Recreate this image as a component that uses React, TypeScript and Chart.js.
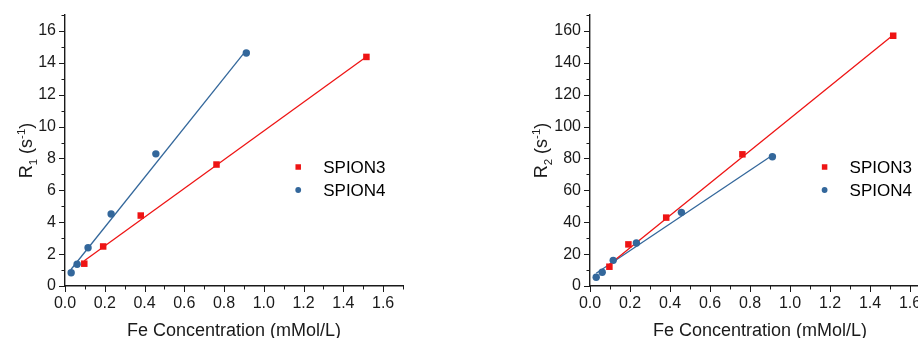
import React, { useEffect, useRef } from 'react';
import { Chart, registerables } from 'chart.js';

Chart.register(...registerables);

// ---------------- data ----------------
const SERIES = ['SPION3', 'SPION4'];
const FE_SPION3 = [0.097, 0.192, 0.381, 0.762, 1.516];
const FE_SPION4 = [0.031, 0.061, 0.116, 0.232, 0.457, 0.912];
const R1_SPION3 = [1.4, 2.48, 4.42, 7.62, 14.37];
const R1_SPION4 = [0.83, 1.36, 2.4, 4.52, 8.29, 14.62];
const R2_SPION3 = [12.1, 26.1, 42.9, 82.6, 157.0];
const R2_SPION4 = [5.5, 8.6, 16.1, 27.0, 46.2, 81.1];
// linear-fit lines: end points
const FIT_FE_SPION3 = [0.097, 1.516];
const FIT_FE_SPION4 = [0.031, 0.912];
const R1_FIT_SPION3 = [1.58, 14.38];
const R1_FIT_SPION4 = [1.05, 14.8];
const R2_FIT_SPION3 = [13.5, 157.5];
const R2_FIT_SPION4 = [8.0, 82.0];

const X_TICKS = [0, 0.2, 0.4, 0.6, 0.8, 1.0, 1.2, 1.4, 1.6];
const R1_TICKS = [0, 2, 4, 6, 8, 10, 12, 14, 16];
const R2_TICKS = [0, 20, 40, 60, 80, 100, 120, 140, 160];
const X_TITLE = 'Fe Concentration (mMol/L)';

// ---------------- style ----------------
const FONT = '"Liberation Sans", Arial, sans-serif';
const RED = '#ee1414';
const BLUE = '#33679b';
const INK = '#1a1a1a';

interface Panel {
  r3: number[];
  r4: number[];
  fit3: number[];
  fit4: number[];
  yTicks: number[];
  yMax: number;
  yMinor: number;
  sub: string;
  axisWidth: number;
  padRight: number;
  titleX: number;
}

const isMajor = (list: number[], v: number) => list.some((m) => Math.abs(m - v) < 1e-6);

function makeConfig(p: Panel): any {
  const decor = {
    id: 'decor',
    afterDraw(chart: any) {
      const ctx = chart.ctx;
      const area = chart.chartArea;
      const xs = chart.scales.x;
      const ys = chart.scales.y;
      ctx.save();
      // tick marks (major + minor, outward)
      ctx.strokeStyle = INK;
      ctx.lineWidth = 1;
      ctx.beginPath();
      xs.ticks.forEach((t: any) => {
        const x = Math.round(xs.getPixelForValue(t.value)) + 0.5;
        const len = isMajor(X_TICKS, t.value) ? 6 : 3.5;
        ctx.moveTo(x, area.bottom);
        ctx.lineTo(x, area.bottom + len);
      });
      ys.ticks.forEach((t: any) => {
        const y = Math.round(ys.getPixelForValue(t.value)) + 0.5;
        const len = isMajor(p.yTicks, t.value) ? 6 : 3.5;
        ctx.moveTo(area.left, y);
        ctx.lineTo(area.left - len, y);
      });
      ctx.stroke();

      // x title
      ctx.fillStyle = INK;
      ctx.font = `18px ${FONT}`;
      ctx.textAlign = 'center';
      ctx.textBaseline = 'alphabetic';
      ctx.fillText(X_TITLE, (area.left + area.right) / 2, 336);

      // y title with subscript / superscript
      const big = `18px ${FONT}`;
      const small = `11.5px ${FONT}`;
      const parts: [string, string, number][] = [
        ['R', big, 0],
        [p.sub, small, 4.5],
        [' (s', big, 0],
        ['-1', small, -7.5],
        [')', big, 0],
      ];
      let total = 0;
      const widths = parts.map(([txt, f]) => {
        ctx.font = f;
        const w = ctx.measureText(txt).width;
        total += w;
        return w;
      });
      ctx.translate(p.titleX, (area.top + area.bottom) / 2);
      ctx.rotate(-Math.PI / 2);
      ctx.textAlign = 'left';
      let cx = -total / 2;
      parts.forEach(([txt, f, dy], i) => {
        ctx.font = f;
        ctx.fillText(txt, cx, 6.4 + dy);
        cx += widths[i];
      });
      ctx.setTransform(1, 0, 0, 1, 0, 0);

      // legend inside plot
      const lx = area.left + 0.69 * (area.right - area.left);
      const rows = [area.top + 152, area.top + 175];
      ctx.font = `17px ${FONT}`;
      ctx.textBaseline = 'middle';
      ctx.textAlign = 'left';
      SERIES.forEach((name, i) => {
        ctx.fillStyle = i === 0 ? RED : BLUE;
        if (i === 0) {
          ctx.fillRect(lx - 2.75, rows[i] - 2.75, 5.5, 5.5);
        } else {
          ctx.beginPath();
          ctx.arc(lx, rows[i], 2.9, 0, Math.PI * 2);
          ctx.fill();
        }
        ctx.fillStyle = '#000';
        ctx.fillText(name, lx + 25, rows[i] + 1);
      });
      ctx.restore();
    },
  };

  const pts = (xs: number[], ys: number[]) => xs.map((x, i) => ({ x, y: ys[i] }));
  const tickFont = { family: FONT, size: 16 };

  return {
    type: 'scatter',
    data: {
      datasets: [
        {
          label: SERIES[0],
          data: pts(FE_SPION3, p.r3),
          pointStyle: 'rect',
          pointRadius: 4.6,
          pointBackgroundColor: RED,
          pointBorderColor: RED,
          pointBorderWidth: 0,
          showLine: false,
        },
        {
          label: SERIES[1],
          data: pts(FE_SPION4, p.r4),
          pointStyle: 'circle',
          pointRadius: 3.7,
          pointBackgroundColor: BLUE,
          pointBorderColor: BLUE,
          pointBorderWidth: 0,
          showLine: false,
        },
        {
          label: 'fit3',
          data: pts(FIT_FE_SPION3, p.fit3),
          showLine: true,
          borderColor: RED,
          borderWidth: 1.3,
          pointRadius: 0,
          fill: false,
        },
        {
          label: 'fit4',
          data: pts(FIT_FE_SPION4, p.fit4),
          showLine: true,
          borderColor: BLUE,
          borderWidth: 1.3,
          pointRadius: 0,
          fill: false,
        },
      ],
    },
    options: {
      responsive: false,
      maintainAspectRatio: false,
      animation: false,
      events: [],
      layout: { padding: { top: 15, right: p.padRight, left: 0, bottom: 0 } },
      plugins: { legend: { display: false }, tooltip: { enabled: false } },
      scales: {
        x: {
          type: 'linear',
          position: 'bottom',
          min: 0,
          max: 1.7,
          bounds: 'data',
          ticks: {
            stepSize: 0.1,
            autoSkip: false,
            maxRotation: 0,
            minRotation: 0,
            padding: 2,
            color: INK,
            font: tickFont,
            callback: (v: number) => (isMajor(X_TICKS, v) ? Number(v).toFixed(1) : ''),
          },
          grid: { display: true, drawOnChartArea: false, drawTicks: true, tickLength: 6, tickColor: 'rgba(0,0,0,0)' },
          border: { display: true, color: INK, width: 1.4 },
          afterFit: (s: any) => {
            s.height = 52;
            s.paddingLeft = 0;
            s.paddingRight = 0;
          },
        },
        y: {
          type: 'linear',
          position: 'left',
          min: 0,
          max: p.yMax,
          bounds: 'data',
          ticks: {
            stepSize: p.yMinor,
            autoSkip: false,
            padding: 3,
            color: INK,
            font: tickFont,
            callback: (v: number) => (isMajor(p.yTicks, v) ? String(Math.round(v)) : ''),
          },
          grid: { display: true, drawOnChartArea: false, drawTicks: true, tickLength: 6, tickColor: 'rgba(0,0,0,0)' },
          border: { display: true, color: INK, width: 1.4 },
          afterFit: (s: any) => {
            s.width = p.axisWidth;
            s.paddingTop = 0;
            s.paddingBottom = 0;
          },
        },
      },
    },
    plugins: [decor],
  };
}

const LEFT: Panel = {
  r3: R1_SPION3,
  r4: R1_SPION4,
  fit3: R1_FIT_SPION3,
  fit4: R1_FIT_SPION4,
  yTicks: R1_TICKS,
  yMax: 17,
  yMinor: 1,
  sub: '1',
  axisWidth: 65,
  padRight: 57,
  titleX: 26,
};

const RIGHT: Panel = {
  r3: R2_SPION3,
  r4: R2_SPION4,
  fit3: R2_FIT_SPION3,
  fit4: R2_FIT_SPION4,
  yTicks: R2_TICKS,
  yMax: 170,
  yMinor: 10,
  sub: '2',
  axisWidth: 130,
  padRight: 30,
  titleX: 81,
};

function Panel({ spec, left, width }: { spec: Panel; left: number; width: number }) {
  const ref = useRef<HTMLCanvasElement>(null);
  useEffect(() => {
    if (!ref.current) return;
    const chart = new Chart(ref.current, makeConfig(spec));
    return () => chart.destroy();
  }, [spec]);
  return (
    <canvas
      ref={ref}
      width={width}
      height={338}
      style={{ position: 'absolute', left, top: 0, width, height: 338, display: 'block' }}
    />
  );
}

export default function App() {
  return (
    <div
      style={{
        position: 'absolute',
        left: 0,
        top: 0,
        width: 918,
        height: 338,
        overflow: 'hidden',
        background: '#fff',
      }}
    >
      <Panel spec={LEFT} left={0} width={460} />
      <Panel spec={RIGHT} left={460} width={500} />
    </div>
  );
}
